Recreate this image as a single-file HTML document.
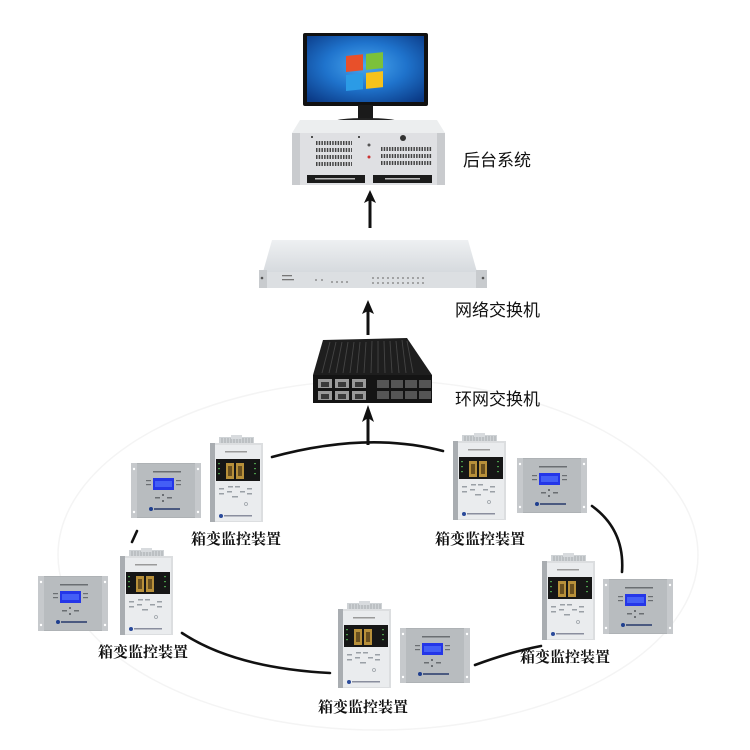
<!DOCTYPE html>
<html><head><meta charset="utf-8"><style>
html,body{margin:0;padding:0;background:#fff;}
svg{display:block;}
.lab{font-family:"Liberation Serif","Noto Serif CJK SC",serif;font-size:15px;font-weight:700;fill:#111;}
.big{font-family:"Liberation Sans","Noto Sans CJK SC",sans-serif;font-size:17px;fill:#111;}
</style></head><body>
<svg width="750" height="750" viewBox="0 0 750 750" xmlns="http://www.w3.org/2000/svg">
<defs>
 <radialGradient id="scr" cx="0.5" cy="0.45" r="0.7">
  <stop offset="0" stop-color="#4aa8f0"/><stop offset="0.5" stop-color="#1f73cc"/><stop offset="1" stop-color="#0b3a86"/>
 </radialGradient>
 <linearGradient id="sw1" x1="0" y1="0" x2="0" y2="1">
  <stop offset="0" stop-color="#eef0f2"/><stop offset="1" stop-color="#d6dade"/>
 </linearGradient>
 <g id="tall">
  <rect x="9" y="0" width="35" height="9" fill="#cfd3d6"/>
  <path d="M12 1V8M15 1V8M18 1V8M21 1V8M24 1V8M27 1V8M30 1V8M33 1V8M36 1V8M39 1V8M42 1V8" stroke="#9ea3a7" stroke-width="0.8"/>
  <rect x="21" y="-2" width="11" height="4" fill="#d8dbde"/>
  <rect x="0" y="6" width="53" height="79" fill="#dcdee0"/>
  <rect x="0" y="6" width="5" height="79" fill="#a9adb1"/>
  <rect x="5" y="8" width="46" height="76" fill="#eaecee"/>
  <rect x="15" y="14" width="22" height="1.5" fill="#9a9a9a"/>
  <rect x="6" y="22" width="44" height="22" fill="#161616"/>
  <rect x="16" y="26" width="8" height="16" fill="#b8903a"/>
  <rect x="26" y="26" width="8" height="16" fill="#b8903a"/>
  <rect x="18" y="29" width="4" height="10" fill="#6a5020"/>
  <rect x="28" y="29" width="4" height="10" fill="#6a5020"/>
  <g fill="#4a9a4a"><rect x="8" y="26" width="2" height="1.2"/><rect x="8" y="31" width="2" height="1.2"/><rect x="8" y="36" width="2" height="1.2"/><rect x="44" y="26" width="2" height="1.2"/><rect x="44" y="31" width="2" height="1.2"/><rect x="44" y="36" width="2" height="1.2"/></g>
  <g fill="#9aa0a6"><rect x="9" y="51" width="5" height="1.5"/><rect x="18" y="49" width="5" height="1.5"/><rect x="25" y="49" width="5" height="1.5"/><rect x="37" y="51" width="5" height="1.5"/><rect x="9" y="56" width="5" height="1.5"/><rect x="17" y="54" width="5" height="1.5"/><rect x="30" y="54" width="5" height="1.5"/><rect x="37" y="56" width="5" height="1.5"/><rect x="22" y="59" width="6" height="1.5"/></g>
  <circle cx="36" cy="67" r="1.5" fill="none" stroke="#9aa0a6" stroke-width="0.8"/>
  <circle cx="11" cy="79" r="2" fill="#2a4a9a"/>
  <rect x="14" y="78" width="28" height="1.5" fill="#8a8e9e"/>
 </g>
 <g id="sq">
  <rect x="0" y="0" width="70" height="55" fill="#aeb2b5"/>
  <rect x="0" y="0" width="6" height="55" fill="#c6c9cc"/>
  <rect x="64" y="0" width="6" height="55" fill="#c6c9cc"/>
  <circle cx="3" cy="6" r="1.2" fill="#fff"/><circle cx="3" cy="49" r="1.2" fill="#fff"/>
  <circle cx="67" cy="6" r="1.2" fill="#fff"/><circle cx="67" cy="49" r="1.2" fill="#fff"/>
  <rect x="6" y="1" width="58" height="53" fill="#b8bcbf"/>
  <rect x="22" y="8" width="28" height="1.5" fill="#6a6e72"/>
  <rect x="22" y="15" width="21" height="12" fill="#2436e8"/>
  <rect x="24" y="18" width="17" height="6" fill="#5a7bff" opacity="0.6"/>
  <g fill="#6a6e72"><rect x="15" y="17" width="5" height="1.2"/><rect x="15" y="21" width="5" height="1.2"/><rect x="45" y="17" width="5" height="1.2"/><rect x="45" y="21" width="5" height="1.2"/>
  <rect x="31" y="31" width="2" height="2"/><rect x="24" y="34" width="5" height="1.5"/><rect x="36" y="34" width="5" height="1.5"/><rect x="31" y="37" width="2" height="2"/></g>
  <circle cx="20" cy="46" r="2" fill="#1f3f8f"/>
  <rect x="23" y="45" width="26" height="2" fill="#4b5a80"/>
 </g>
</defs>

<!-- faint background ring -->
<ellipse cx="378" cy="555" rx="320" ry="175" fill="none" stroke="#f4f4f4" stroke-width="1.5"/>

<!-- monitor -->
<rect x="303" y="33" width="125" height="73" rx="2" fill="#111"/>
<rect x="307" y="36" width="117" height="66" fill="url(#scr)"/>
<g transform="translate(365,72) skewY(-6)">
 <rect x="-19" y="-18" width="17" height="16" fill="#e8502a"/>
 <rect x="1" y="-18" width="17" height="16" fill="#7cc13a"/>
 <rect x="-19" y="1" width="17" height="16" fill="#2b9be6"/>
 <rect x="1" y="1" width="17" height="16" fill="#f6c21b"/>
</g>
<rect x="358" y="105" width="15" height="15" fill="#1a1a1a"/>
<ellipse cx="366" cy="122" rx="33" ry="4" fill="#222"/>

<!-- industrial PC -->
<polygon points="300,120 437,120 445,133 292,133" fill="#eceeef"/>
<rect x="292" y="133" width="153" height="52" fill="#dfe0e3"/>
<rect x="292" y="133" width="8" height="52" fill="#c9cbce"/>
<rect x="437" y="133" width="8" height="52" fill="#c9cbce"/>
<g stroke="#444" stroke-width="4" stroke-dasharray="1.5 1.2">
 <path d="M316 143H352M316 150H352M316 157H352M316 164H352"/>
 <path d="M381 149H432M381 156H432M381 163H432"/>
</g>
<rect x="307" y="175" width="58" height="8" fill="#1b1b1b"/>
<rect x="373" y="175" width="59" height="8" fill="#1b1b1b"/>
<rect x="315" y="178" width="40" height="1.5" fill="#bbb"/>
<rect x="385" y="178" width="35" height="1.5" fill="#bbb"/>
<circle cx="403" cy="138" r="3" fill="#333"/>
<circle cx="369" cy="157" r="1.5" fill="#c33"/>
<circle cx="369" cy="145" r="1.5" fill="#555"/>
<circle cx="312" cy="137" r="1" fill="#222"/><circle cx="359" cy="137" r="1" fill="#222"/>

<!-- rack network switch -->
<polygon points="272,240 468,240 477,272 263,272" fill="url(#sw1)"/>
<rect x="263" y="272" width="215" height="16" fill="#dcdfe2"/>
<rect x="259" y="270" width="8" height="18" fill="#c8cbce"/>
<rect x="476" y="270" width="11" height="18" fill="#c8cbce"/>
<circle cx="262" cy="278" r="1.3" fill="#555"/><circle cx="483" cy="278" r="1.3" fill="#555"/>
<rect x="282" y="275" width="10" height="1.3" fill="#777"/>
<rect x="282" y="279" width="12" height="1.3" fill="#777"/>
<g fill="#777">
 <circle cx="316" cy="280" r="0.9"/><circle cx="322" cy="280" r="0.9"/><circle cx="332" cy="282" r="0.9"/><circle cx="337" cy="282" r="0.9"/><circle cx="342" cy="282" r="0.9"/><circle cx="347" cy="282" r="0.9"/>
 <circle cx="373" cy="278" r="0.9"/><circle cx="378" cy="278" r="0.9"/><circle cx="383" cy="278" r="0.9"/><circle cx="388" cy="278" r="0.9"/><circle cx="393" cy="278" r="0.9"/><circle cx="398" cy="278" r="0.9"/><circle cx="403" cy="278" r="0.9"/><circle cx="408" cy="278" r="0.9"/><circle cx="413" cy="278" r="0.9"/><circle cx="418" cy="278" r="0.9"/><circle cx="423" cy="278" r="0.9"/>
 <circle cx="373" cy="283" r="0.9"/><circle cx="378" cy="283" r="0.9"/><circle cx="383" cy="283" r="0.9"/><circle cx="388" cy="283" r="0.9"/><circle cx="393" cy="283" r="0.9"/><circle cx="398" cy="283" r="0.9"/><circle cx="403" cy="283" r="0.9"/><circle cx="408" cy="283" r="0.9"/><circle cx="413" cy="283" r="0.9"/><circle cx="418" cy="283" r="0.9"/><circle cx="423" cy="283" r="0.9"/>
</g>

<!-- ring switch (black) -->
<polygon points="323,340 407,338 432,375 313,375" fill="#1e1e1e"/>
<g stroke="#444" stroke-width="0.9">
 <path d="M330 342L322 373M336 342L329 373M342 342L336 373M348 342L343 373M354 342L350 373M360 342L357 373M366 342L364 373M372 341L371 373M378 341L378 373M384 341L385 373M390 341L392 373M396 341L399 373M402 340L406 373M407 341L413 373"/>
</g>
<rect x="313" y="375" width="119" height="28" fill="#141414"/>
<g fill="#9a9a9a">
 <rect x="318" y="379" width="14" height="9"/><rect x="335" y="379" width="14" height="9"/><rect x="352" y="379" width="14" height="9"/>
 <rect x="318" y="391" width="14" height="9"/><rect x="335" y="391" width="14" height="9"/><rect x="352" y="391" width="14" height="9"/>
</g>
<g fill="#3a3a3a">
 <rect x="321" y="382" width="8" height="5"/><rect x="338" y="382" width="8" height="5"/><rect x="355" y="382" width="8" height="5"/>
 <rect x="321" y="394" width="8" height="5"/><rect x="338" y="394" width="8" height="5"/><rect x="355" y="394" width="8" height="5"/>
</g>
<g fill="#555">
 <rect x="377" y="380" width="12" height="8"/><rect x="391" y="380" width="12" height="8"/><rect x="405" y="380" width="12" height="8"/><rect x="419" y="380" width="12" height="8"/>
 <rect x="377" y="391" width="12" height="8"/><rect x="391" y="391" width="12" height="8"/><rect x="405" y="391" width="12" height="8"/><rect x="419" y="391" width="12" height="8"/>
</g>

<!-- arrows -->
<g stroke="#111" stroke-width="3" fill="none">
 <path d="M370 228V198"/>
 <path d="M368 335V308"/>
 <path d="M368 445V414"/>
</g>
<g fill="#111">
 <path d="M370 190L376 203L370 200L364 203Z"/>
 <path d="M368 300L374 314L368 311L362 314Z"/>
 <path d="M368 405L374 422L368 418L362 422Z"/>
</g>

<!-- ring connectors -->
<g stroke="#111" stroke-width="2.6" fill="none" stroke-linecap="round">
 <path d="M272 457Q368 431 443 451"/>
 <path d="M137 531L132 542"/>
 <path d="M592 506Q625 530 622 572"/>
 <path d="M475 665Q510 652 541 646"/>
 <path d="M182 633Q235 668 330 673"/>
</g>

<!-- devices -->
<use href="#sq" x="131" y="463"/>
<use href="#tall" x="210" y="437"/>
<use href="#tall" x="453" y="435"/>
<use href="#sq" x="517" y="458"/>
<use href="#tall" x="542" y="555"/>
<use href="#sq" x="603" y="579"/>
<use href="#tall" x="338" y="603"/>
<use href="#sq" x="400" y="628"/>
<use href="#sq" x="38" y="576"/>
<use href="#tall" x="120" y="550"/>

<!-- labels -->
<text class="big" x="463" y="166">后台系统</text>
<text class="big" x="455" y="316">网络交换机</text>
<text class="big" x="455" y="405">环网交换机</text>
<text class="lab" x="191" y="544">箱变监控装置</text>
<text class="lab" x="435" y="544">箱变监控装置</text>
<text class="lab" x="520" y="662">箱变监控装置</text>
<text class="lab" x="318" y="712">箱变监控装置</text>
<text class="lab" x="98" y="657">箱变监控装置</text>
</svg>
</body></html>
